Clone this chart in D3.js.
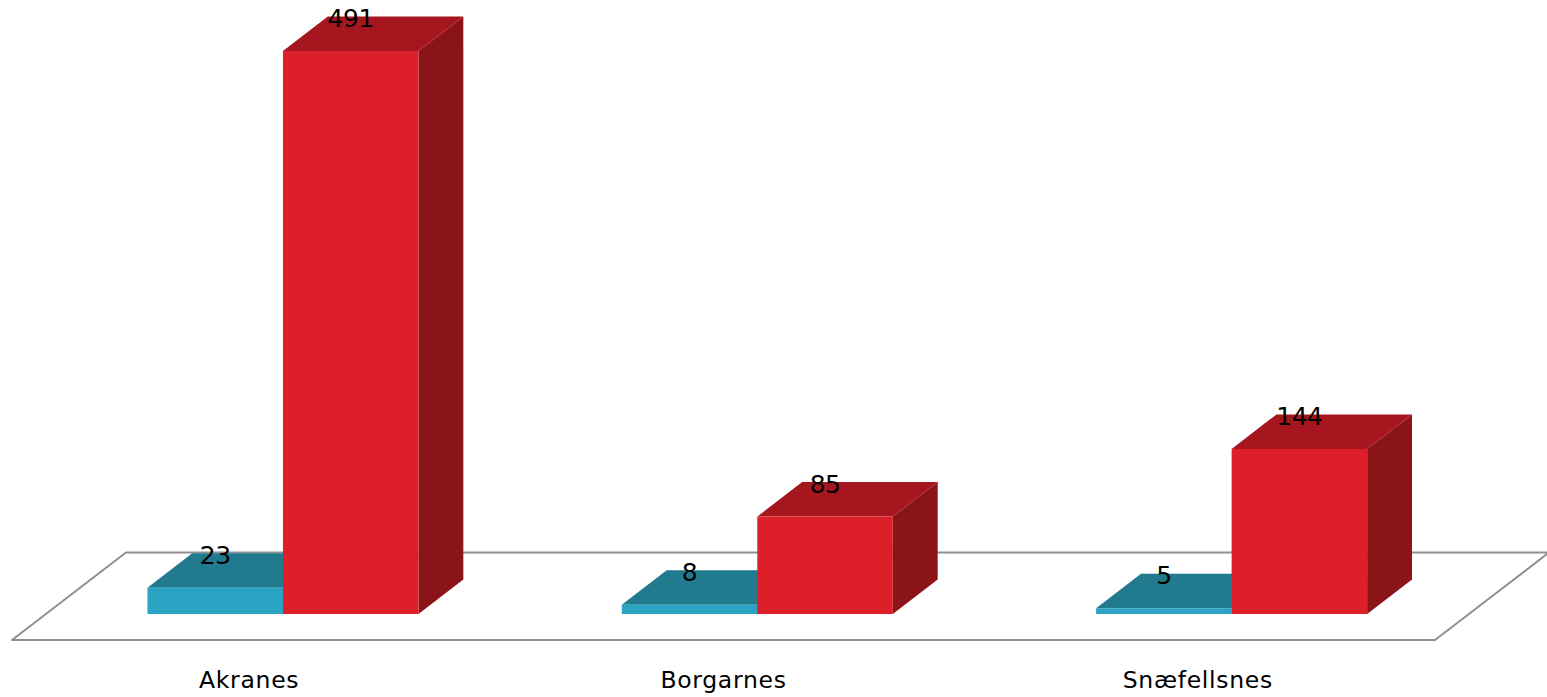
<!DOCTYPE html>
<html>
<head>
<meta charset="utf-8">
<script src="https://cdn.jsdelivr.net/npm/d3@7"></script>
<style>
  html, body { margin: 0; padding: 0; background: #ffffff; }
  svg { display: block; }
  text { font-family: "DejaVu Sans", Verdana, sans-serif; fill: #000; }
</style>
</head>
<body>
<div id="chart"></div>
<script>
// ---- data ----
const categories = ["Akranes", "Borgarnes", "Snæfellsnes"];
const seriesNames = ["Series A", "Series B"];
const seriesA = [23, 8, 5];
const seriesB = [491, 85, 144];

// ---- layout ----
const W = 1547, H = 697;
const floorFrontY = 640, floorDepth = 87.5;
const frontLeft = 12, frontRight = 1435;
const kx = 114 / 87.5;         // oblique x shift per unit of depth
const barZ0 = 26;              // depth of bar front face
const barDepth = 34.5;         // bar depth (in y units)

const colors = {
  A: { front: "#2ba3c3", top: "#217a8e", side: "#1c6a7c" },
  B: { front: "#dc1f28", top: "#a5161f", side: "#8b1419" }
};

const svg = d3.select("#chart").append("svg")
  .attr("width", W).attr("height", H);

const x0 = d3.scaleBand().domain(categories).range([frontLeft, frontRight]).padding(0);
const groupW = x0.bandwidth() * 0.5714;
const x1 = d3.scaleBand().domain(seriesNames).range([0, groupW]).padding(0);
const yH = d3.scaleLinear().domain([0, 500]).range([0, 573.3]);

// floor
const floorPts = [
  [frontLeft, floorFrontY],
  [frontRight, floorFrontY],
  [frontRight + floorDepth * kx, floorFrontY - floorDepth],
  [frontLeft + floorDepth * kx, floorFrontY - floorDepth]
];
svg.append("polygon")
  .attr("points", floorPts.map(p => p.join(",")).join(" "))
  .attr("fill", "#ffffff")
  .attr("stroke", "#8f8f8f")
  .attr("stroke-width", 2)
  .attr("stroke-linejoin", "round");

const baseY = floorFrontY - barZ0;
const shiftZ0 = barZ0 * 1.3;
const dX = barDepth * 1.3, dY = barDepth;

function drawBar(g, x, w, h, c) {
  const top = baseY - h;
  g.append("polygon")
    .attr("points", [[x + w, baseY], [x + w + dX, baseY - dY], [x + w + dX, top - dY], [x + w, top]].map(p => p.join(",")).join(" "))
    .attr("fill", c.side);
  g.append("polygon")
    .attr("points", [[x, top], [x + w, top], [x + w + dX, top - dY], [x + dX, top - dY]].map(p => p.join(",")).join(" "))
    .attr("fill", c.top);
  g.append("rect")
    .attr("x", x).attr("y", top).attr("width", w).attr("height", h)
    .attr("fill", c.front);
}

const bars = svg.append("g");
const labels = svg.append("g");

categories.forEach((cat, i) => {
  const gx = x0(cat) + (x0.bandwidth() - groupW) / 2 + shiftZ0;
  const g = bars.append("g");
  const vals = [seriesA[i], seriesB[i]];
  const cols = [colors.A, colors.B];
  seriesNames.forEach((s, j) => {
    const bx = gx + x1(s);
    const h = yH(vals[j]);
    drawBar(g, bx, x1.bandwidth(), h, cols[j]);
    labels.append("text")
      .attr("x", bx + x1.bandwidth() / 2)
      .attr("y", baseY - h - 24)
      .attr("text-anchor", "middle")
      .style("font-size", "25px")
      .style("letter-spacing", "-0.5px")
      .text(vals[j]);
  });
  svg.append("text")
    .attr("x", x0(cat) + x0.bandwidth() / 2)
    .attr("y", 688)
    .attr("text-anchor", "middle")
    .style("font-size", "23.5px")
    .style("letter-spacing", "0.7px")
    .text(cat);
});
</script>
</body>
</html>
